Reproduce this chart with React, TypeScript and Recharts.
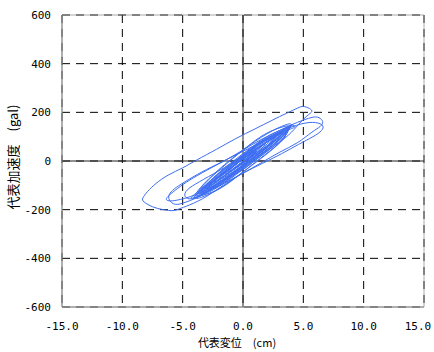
import React from 'react'
import {
  LineChart,
  Line,
  XAxis,
  YAxis,
  CartesianGrid,
  ReferenceLine,
  ReferenceArea
} from 'recharts'

// displacement (cm) / acceleration (gal) in time order
const dispX = [
  // start
  0, 0.6, 1.1, 0.4, -0.5, -1.2, -0.6, 0.5, 1.6, 2.0, 1.2, 0, -1.3, -2.1, -1.4, 0, 1.5, 2.6, 2.9, 2.0,
  0.5, -1.0, -2.5, -3.0, -2.2, -0.5, 1.2, 2.8, 3.3,
  // mid loops
  2.4, 1.0, -0.8, -2.5, -4.0, -5.2, -6.0, -6.35, -6.1, -5.4, -4.4, -3.0, -1.5, 0, 1.5, 2.8, 4.0,
  5.0, 5.8, 6.3, 6.6, 6.4, 5.7, 4.5, 3.0, 1.6, 0,
  // big loops
  -1.5, -3.0, -4.4, -5.3, -5.8, -6.6, -7.5, -8.2, -8.3, -7.9, -7.2, -6.2, -5.0, -3.8, -2.2, -0.6,
  1.0, 2.4, 3.6, 4.5, 5.0, 5.5, 5.7, 5.3, 4.6, 3.8, 2.6, 1.2, 0, -1.1, -2.5, -3.8, -4.8, -5.6,
  -6.1, -6.1, -5.7, -4.8, -3.4, -1.8, 0, 1.6, 3.2, 4.8, 6.0, 6.6, 6.5, 5.8, 4.6, 3.2, 1.6, 0,
  -1.5, -3.0, -4.2, -4.8, -4.6, -3.6, -2.0, 0, 2.0, 3.5, 4.3, 4.0,
  // dense band
  3.5, 2.0, 0, -2.0, -3.5, -4.1, -3.5, -2.0, 0, 2.0, 3.5, 3.9,
  3.2, 1.8, 0, -1.8, -3.2, -3.7, -3.2, -1.8, 0, 1.8, 3.2, 3.6,
  3.6, 2.0, 0, -2.0, -3.6, -4.3, -3.8, -2.2, 0, 2.0, 3.4, 4.0,
  3.0, 1.5, 0, -1.5, -3.0, -3.5, -3.0, -1.5, 0, 1.5, 3.0, 3.5,
  3.4, 1.8, 0, -1.8, -3.4, -3.9, -3.4, -1.8, 0, 1.8, 3.4, 3.8,
  3.3, 1.8, 0, -1.8, -3.3, -3.8, -3.3, -1.8, 0, 1.8, 3.3, 3.8,
  3.0, 1.5, 0, -1.5, -3.0, -3.5, -3.0, -1.5, 0, 1.5, 3.0, 3.5,
  2.6, 1.2, 0, -1.4, -2.6, -3.1, -2.6, -1.2, 0, 1.4, 2.6, 3.1,
  3.5, 2.0, 0, -2.0, -3.5, -4.0, -3.5, -2.0, 0, 2.0, 3.5, 4.0,
  3.1, 1.5, 0, -1.8, -3.2, -3.7, -3.2, -1.6, 0, 1.8, 3.3, 3.9,
  2.8, 1.4, 0, -1.4, -2.8, -3.2, -2.8, -1.4, 0, 1.4, 2.8, 3.2,
  2.8, 1.3, 0, -1.5, -2.9, -3.4, -2.9, -1.3, 0, 1.5, 2.8, 3.2,
  2.3, 1.0, 0, -1.2, -2.3, -2.8, -2.3, -1.0, 0, 1.2, 2.3, 2.7,
  1.9, 0.8, 0, -1.0, -2.0, -2.4, -2.0, -0.8, 0, 1.0, 1.8,
  1.2, 0, -1.0, -1.5, -1.0, 0, 0.9, 1.1, 0.5, 0
]

const accY = [
  0, 25, 40, 10, -25, -45, -15, 30, 65, 80, 45, 0, -50, -80, -45, 10, 60, 100, 110, 70,
  15, -40, -95, -112, -75, -10, 50, 108, 125,
  80, 20, -45, -105, -140, -158, -164, -158, -140, -112, -78, -38, 2, 45, 88, 120, 148,
  168, 180, 178, 162, 142, 118, 75, 35, -5, -50,
  -95, -145, -180, -197, -204, -200, -188, -168, -152, -125, -92, -58, -28, 5, 48, 92,
  132, 167, 196, 217, 224, 216, 203, 185, 150, 108, 62, 10, -35, -62, -110, -150, -170, -178,
  -160, -137, -115, -85, -45, -5, 40, 80, 122, 152, 158, 145, 125, 100, 68, 30, -10, -50,
  -90, -128, -155, -145, -118, -85, -40, 18, 78, 122, 140, 145,
  112, 45, -30, -100, -140, -150, -120, -48, 30, 100, 135, 142,
  100, 40, -25, -90, -128, -135, -108, -42, 25, 88, 122, 132,
  110, 40, -35, -105, -145, -152, -128, -60, 22, 92, 130, 146,
  95, 35, -22, -78, -118, -126, -102, -40, 22, 78, 112, 125,
  105, 38, -30, -95, -135, -142, -115, -48, 25, 90, 128, 138,
  90, 25, -45, -110, -140, -140, -100, -30, 45, 110, 140, 140,
  100, 45, -8, -62, -112, -128, -104, -48, 8, 62, 112, 128,
  82, 25, -20, -70, -105, -112, -90, -35, 18, 70, 100, 112,
  100, 30, -45, -115, -150, -148, -108, -35, 45, 112, 148, 145,
  92, 30, -25, -88, -125, -132, -110, -45, 20, 85, 125, 140,
  92, 42, -5, -55, -102, -115, -96, -45, 8, 58, 105, 115,
  88, 28, -20, -75, -112, -122, -98, -35, 22, 75, 106, 115,
  72, 20, -18, -60, -92, -100, -80, -28, 15, 60, 88, 98,
  58, 15, -15, -50, -78, -85, -65, -20, 15, 50, 68,
  35, -10, -42, -55, -30, 8, 35, 38, 12, -3
]

const xTicks = [-15, -10, -5, 0, 5, 10, 15]
const yTicks = [-600, -400, -200, 0, 200, 400, 600]

const data = dispX.map((x, i) => ({ x, y: accY[i] }))

const tickFont = { fontFamily: '"DejaVu Sans Mono", monospace', fontSize: 11, fill: '#000' }
const cjkFont = '"Noto Sans CJK JP", sans-serif'

// last x label is pulled in a little so it stays inside the picture
const XTick = (props: any) => {
  const { x, y, payload } = props
  const shift = payload.value === 15 ? -6 : 0
  return (
    <text x={x + shift} y={y} dy="0.71em" textAnchor="middle" {...tickFont}>
      {Number(payload.value).toFixed(1)}
    </text>
  )
}

export default function App() {
  return (
    <div style={{ width: 434, height: 352 }}>
      <style>{`body{margin:0;}`}</style>
      <LineChart
        width={434}
        height={352}
        data={data}
        margin={{ top: 15, right: 10, left: 0, bottom: 0 }}
      >
        <CartesianGrid stroke="#000" strokeDasharray="8 6" />
        <XAxis
          dataKey="x"
          type="number"
          domain={[-15, 15]}
          ticks={xTicks}
          tick={<XTick />}
          tickLine={false}
          tickMargin={9}
          axisLine={{ stroke: '#888' }}
          height={45}
          allowDataOverflow
          label={{
            value: '代表変位　(cm)',
            position: 'insideBottom',
            offset: 5,
            dx: -6,
            style: { fontFamily: cjkFont, fontSize: 11, fill: '#000' }
          }}
        />
        <YAxis
          type="number"
          domain={[-600, 600]}
          ticks={yTicks}
          tick={tickFont}
          tickLine={false}
          tickMargin={5}
          axisLine={{ stroke: '#888' }}
          width={62}
          allowDataOverflow
          label={{
            value: '代表加速度　(gal)',
            position: 'center',
            angle: -90,
            dx: -18,
            dy: -4,
            style: { fontFamily: cjkFont, fontSize: 13, fill: '#000' }
          }}
        />
        <ReferenceArea x1={-15} x2={15} y1={-600} y2={600} fill="none" stroke="#888" strokeOpacity={0.7} />
        <ReferenceLine x={0} stroke="#222" />
        <ReferenceLine y={0} stroke="#222" />
        <Line
          dataKey="y"
          type="natural"
          stroke="#3d6ef2"
          strokeWidth={1}
          dot={false}
          isAnimationActive={false}
        />
      </LineChart>
    </div>
  )
}
